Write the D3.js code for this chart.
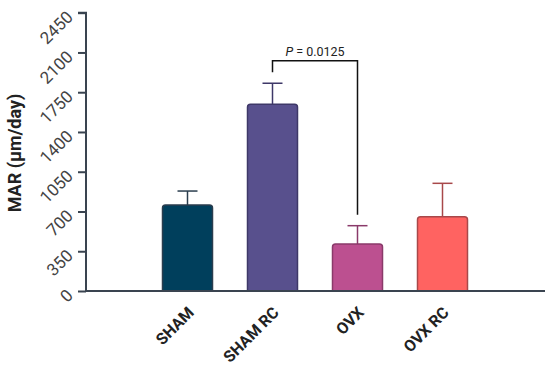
<!DOCTYPE html>
<html><head><meta charset="utf-8">
<script src="https://cdn.jsdelivr.net/npm/d3@7"></script>
<style>body{margin:0;background:#fff}svg{display:block}</style>
</head><body>
<svg id="c" width="550" height="372"></svg>
<script>
const categories = ["SHAM", "SHAM RC", "OVX", "OVX RC"];
const means = [757, 1644, 414, 654];
const errors = [123, 185, 161, 294];
const fills = ["#003f5c", "#58508d", "#bc5090", "#ff6361"];
const strokes = ["#2a3d4e", "#3e3868", "#8a3a6a", "#a8484a"];
const yTicks = [0, 350, 700, 1050, 1400, 1750, 2100, 2450];
const pLabel = "= 0.0125";

const svg = d3.select("#c");
const axisX = 86, y0 = 291, yTop = 12.7, xEnd = 545;
const y = d3.scaleLinear().domain([0, 2450]).range([y0, yTop]);
const x = d3.scaleBand().domain(categories).range([145, 485]).paddingInner(35/85).paddingOuter(35/170);
const axisCol = "#3a4450";

// bars
const g = svg.append("g");
categories.forEach((c, i) => {
  const bx = x(c), bw = x.bandwidth(), cx = bx + bw/2;
  const top = y(means[i]);
  g.append("line").attr("x1", cx).attr("x2", cx).attr("y1", top).attr("y2", y(means[i] + errors[i]))
    .attr("stroke", strokes[i]).attr("stroke-width", 1.5);
  g.append("line").attr("x1", cx - 10).attr("x2", cx + 10).attr("y1", y(means[i] + errors[i])).attr("y2", y(means[i] + errors[i]))
    .attr("stroke", strokes[i]).attr("stroke-width", 1.5);
  const r = 3;
  const p = d3.path();
  p.moveTo(bx, y0);
  p.lineTo(bx, top + r);
  p.quadraticCurveTo(bx, top, bx + r, top);
  p.lineTo(bx + bw - r, top);
  p.quadraticCurveTo(bx + bw, top, bx + bw, top + r);
  p.lineTo(bx + bw, y0);
  g.append("path").attr("d", p.toString()).attr("fill", fills[i]).attr("stroke", strokes[i]).attr("stroke-width", 1.5);
});

// y axis
const ya = d3.axisLeft(y).tickValues(yTicks).tickSize(8).tickPadding(4).tickFormat(d3.format("d"));
const yg = svg.append("g").attr("transform", `translate(${axisX},0)`).call(ya);
yg.select(".domain").attr("stroke", axisCol).attr("stroke-width", 2).attr("d", `M-8,${yTop}H0V${y0}`);
yg.selectAll(".tick line").attr("stroke", axisCol).attr("stroke-width", 2);
yg.selectAll(".tick text")
  .attr("x", null).attr("dy", null)
  .attr("transform", "translate(-12,5) rotate(-45)")
  .attr("text-anchor", "end")
  .attr("fill", "#444")
  .style("font-family", "Roboto, 'Open Sans', sans-serif")
  .style("font-size", "17px");

// x axis
const xa = d3.axisBottom(x).tickSize(0).tickPadding(0);
const xg = svg.append("g").attr("transform", `translate(0,${y0})`).call(xa);
xg.select(".domain").attr("stroke", axisCol).attr("stroke-width", 2).attr("d", `M${axisX},0H${xEnd}`);
xg.selectAll(".tick text")
  .attr("y", null).attr("dy", null)
  .attr("transform", "translate(7.5,22.5) rotate(-45)")
  .attr("text-anchor", "end")
  .attr("fill", "#222")
  .style("font-family", "Roboto, 'Open Sans', sans-serif")
  .style("font-weight", "bold")
  .style("font-size", "16px");

// y label
svg.append("text").attr("transform", `translate(21,${153}) rotate(-90)`)
  .attr("text-anchor", "middle").attr("fill", "#222")
  .style("font-family", "Roboto, 'Open Sans', sans-serif").style("font-weight", "bold").style("font-size", "18px")
  .text("MAR (μm/day)");

// significance bracket
const c1 = x("SHAM RC") + x.bandwidth()/2, c2 = x("OVX") + x.bandwidth()/2;
const by = 60.7;
svg.append("path").attr("d", `M${c1},${y(means[1] + errors[1]) - 11}V${by}H${c2}V${y(means[2] + errors[2]) - 11}`)
  .attr("fill", "none").attr("stroke", "#111").attr("stroke-width", 1.5);
const pt = svg.append("text").attr("x", (c1 + c2)/2).attr("y", 55.5).attr("text-anchor", "middle")
  .attr("fill", "#222").style("font-family", "Roboto, 'Open Sans', sans-serif").style("font-size", "12.5px");
pt.append("tspan").style("font-style", "italic").text("P");
pt.append("tspan").text(" " + pLabel);
</script>
</body></html>
